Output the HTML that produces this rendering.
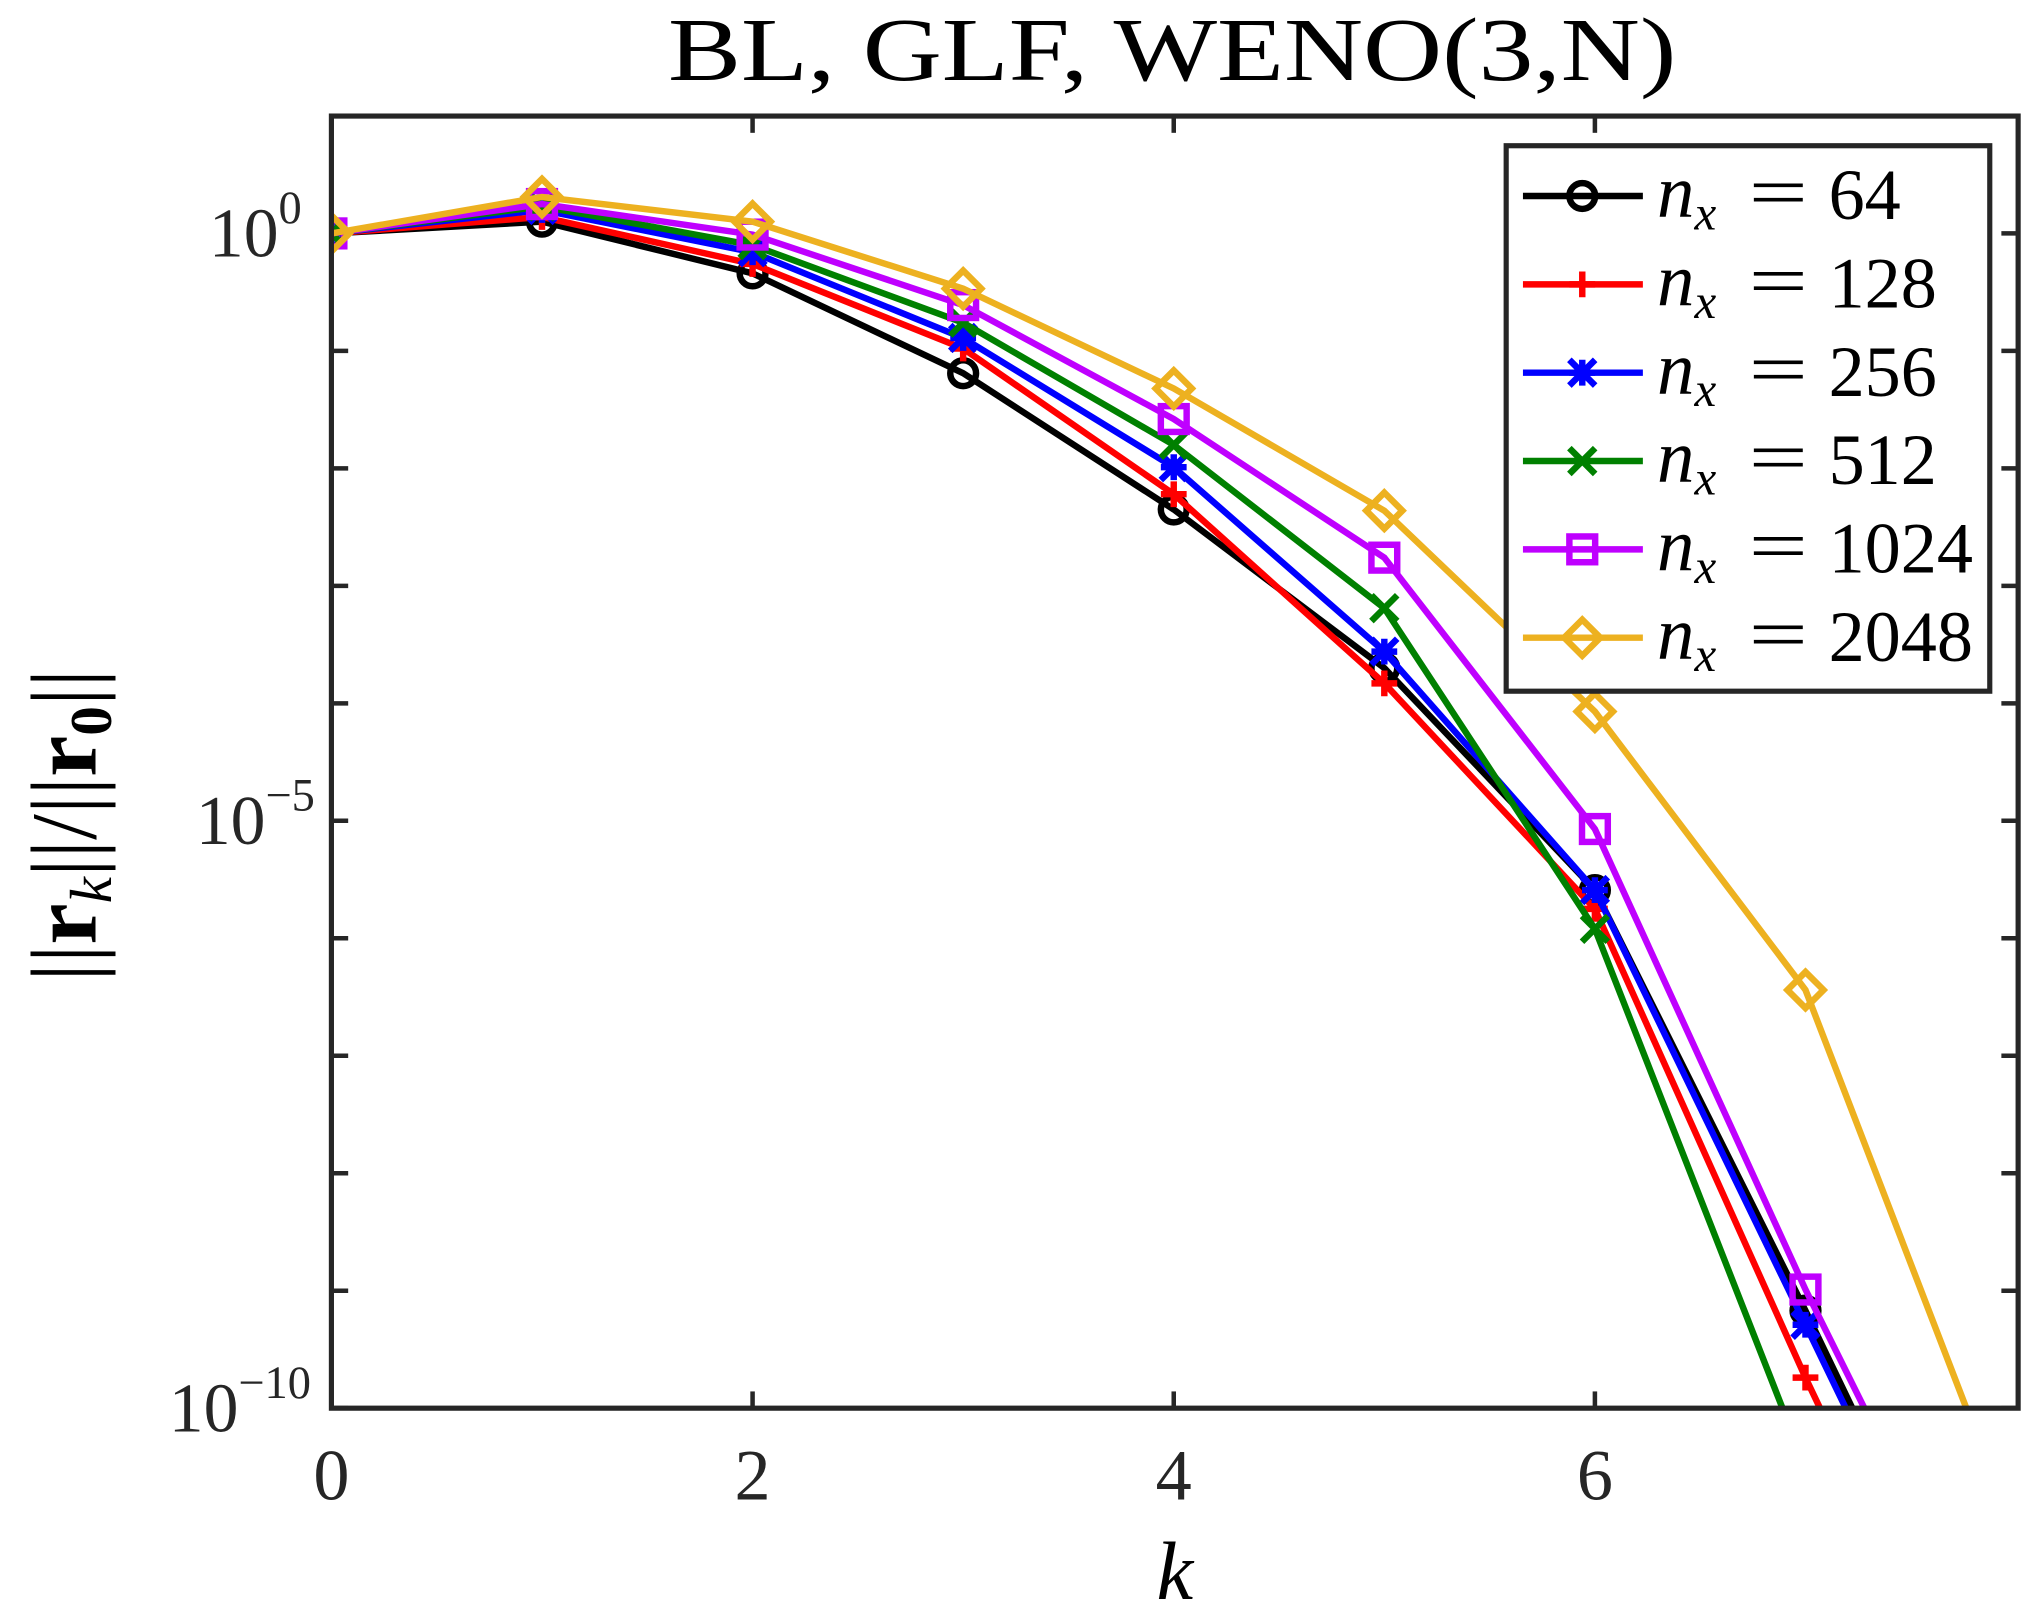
<!DOCTYPE html>
<html><head><meta charset="utf-8"><style>
html,body{margin:0;padding:0;background:#fff;width:2022px;height:1618px;overflow:hidden}
svg{display:block}
svg text{font-family:"Liberation Serif",serif}
</style></head><body>
<svg id="chart" width="2022" height="1618" viewBox="0 0 1568 1254.7" xmlns="http://www.w3.org/2000/svg">
<defs><clipPath id="plotclip"><rect x="257" y="90" width="1308" height="1002"/></clipPath></defs>
<rect x="0" y="0" width="1568" height="1254" fill="#fff"/>
<text x="518" y="62" font-size="70" textLength="782" lengthAdjust="spacingAndGlyphs">BL, GLF, WENO(3,N)</text>
<g id="axes"></g>
<g id="series" clip-path="url(#plotclip)"></g>
<rect x="257" y="90" width="1308" height="1002" fill="none" stroke="#262626" stroke-width="4"/>
<g id="legend"></g>
<text x="911" y="1240" font-size="64" font-style="italic" text-anchor="middle">k</text>
<text transform="translate(74,640) rotate(-90)" font-size="72" text-anchor="middle">||<tspan font-weight="bold">r</tspan><tspan font-size="46" font-style="italic" dy="12">k</tspan><tspan dy="-12">||/||</tspan><tspan font-weight="bold">r</tspan><tspan font-size="46" font-weight="bold" dy="12">0</tspan><tspan dy="-12">||</tspan></text>
</svg>
<script>
const ks=[0,1,2,3,4,5,6,7,8];
const labels=["64","128","256","512","1024","2048"];
const colors=["#000000","#ff0000","#0000ff","#008000","#bf00ff","#edb120"];
const markers=["circle","plus","star","x","square","diamond"];
const s64=[0,0.1,-0.34,-1.19,-2.35,-3.7,-5.59,-9.17,-12.9];
const s128=[0,0.14,-0.26,-0.98,-2.22,-3.83,-5.75,-9.74,-13.5];
const s256=[0,0.2,-0.16,-0.89,-1.99,-3.56,-5.59,-9.29,-13.0];
const s512=[0,0.23,-0.1,-0.76,-1.8,-3.19,-5.92,-10.5,-15.0];
const s1024=[0,0.25,-0.01,-0.61,-1.58,-2.76,-5.07,-8.99,-12.6];
const s2048=[0,0.31,0.1,-0.47,-1.32,-2.36,-4.07,-6.44,-11.1];
const seriesData=[s64,s128,s256,s512,s1024,s2048];
const xTicks=[0,2,4,6];
const yTicks=[1,0,-1,-2,-3,-4,-5,-6,-7,-8,-9,-10];
const yLabels=[0,-5,-10];
const NS="http://www.w3.org/2000/svg";
const X=k=>257+k*163.3;
const Y=l=>181-l*91.1;
function mk(tag,attrs,parent){const e=document.createElementNS(NS,tag);for(const a in attrs)e.setAttribute(a,attrs[a]);parent.appendChild(e);return e;}
const axes=document.getElementById('axes');
xTicks.forEach(t=>{
 const g=mk('g',{},axes);
 
 
 mk('line',{x1:X(t),x2:X(t),y1:1092,y2:1079,stroke:'#262626','stroke-width':3.5},g);
 mk('line',{x1:X(t),x2:X(t),y1:90,y2:103,stroke:'#262626','stroke-width':3.5},g);
 const tx=mk('text',{x:X(t),y:1163,'font-size':56,'text-anchor':'middle',fill:'#262626'},g);tx.textContent=t;
});
yTicks.forEach(t=>{
 const g=mk('g',{},axes);
 
 
 mk('line',{x1:257,x2:270,y1:Y(t),y2:Y(t),stroke:'#262626','stroke-width':3.5},g);
 mk('line',{x1:1565,x2:1552,y1:Y(t),y2:Y(t),stroke:'#262626','stroke-width':3.5},g);
 if(yLabels.includes(t)){
  const tx=mk('text',{x:t<0?(t==-10?186:198):198,y:Y(t)+18,'font-size':54,'text-anchor':'middle',fill:'#262626'},g);
  tx.innerHTML='10<tspan font-size="36" dy="-26">'+(t<0?'−'+(-t):t)+'</tspan>';
 }
});
function marker(type,x,y,c,g){
 const st={stroke:c,'stroke-width':5,fill:'none'};const r=10;
 if(type=='circle')mk('circle',Object.assign({cx:x,cy:y,r:r},st),g);
 else if(type=='plus')mk('path',Object.assign({d:`M${x-r} ${y}H${x+r}M${x} ${y-r}V${y+r}`},st),g);
 else if(type=='x')mk('path',Object.assign({d:`M${x-r} ${y-r}L${x+r} ${y+r}M${x-r} ${y+r}L${x+r} ${y-r}`},st),g);
 else if(type=='star')mk('path',Object.assign({d:`M${x-r} ${y}H${x+r}M${x} ${y-r}V${y+r}M${x-r} ${y-r}L${x+r} ${y+r}M${x-r} ${y+r}L${x+r} ${y-r}`},st),g);
 else if(type=='square')mk('rect',Object.assign({x:x-r,y:y-r,width:2*r,height:2*r},st),g);
 else if(type=='diamond')mk('path',Object.assign({d:`M${x} ${y-14}L${x+14} ${y}L${x} ${y+14}L${x-14} ${y}Z`},st),g);
}
const sg=document.getElementById('series');
seriesData.forEach((d,i)=>{
 const g=mk('g',{},sg);
 
 
 mk('polyline',{points:d.map((v,j)=>X(ks[j])+','+Y(v)).join(' '),fill:'none',stroke:colors[i],'stroke-width':5},g);
 d.forEach((v,j)=>{if(Y(v)<=1092)marker(markers[i],X(ks[j]),Y(v),colors[i],g);});
});
const lg=document.getElementById('legend');
const lb=mk('rect',{x:1168,y:113,width:375,height:423,fill:'#fff',stroke:'#262626','stroke-width':4},lg);


labels.forEach((l,i)=>{
 const y=152+i*68.5;
 const g=mk('g',{},lg);
 
 
 mk('line',{x1:1181,x2:1274,y1:y,y2:y,stroke:colors[i],'stroke-width':5},g);
 marker(markers[i],1227,y,colors[i],g);
 const t=mk('text',{x:1285,y:y+16,'font-size':58},g);
 t.innerHTML='<tspan font-style="italic">n</tspan><tspan font-style="italic" font-size="38" dy="10">x</tspan>';
 const e=mk('text',{x:1356,y:y+16,'font-size':56,textLength:46,lengthAdjust:'spacingAndGlyphs'},g);e.textContent='=';
 const n=mk('text',{x:1418,y:y+18,'font-size':56},g);n.textContent=l;
});
</script>
</body></html>
